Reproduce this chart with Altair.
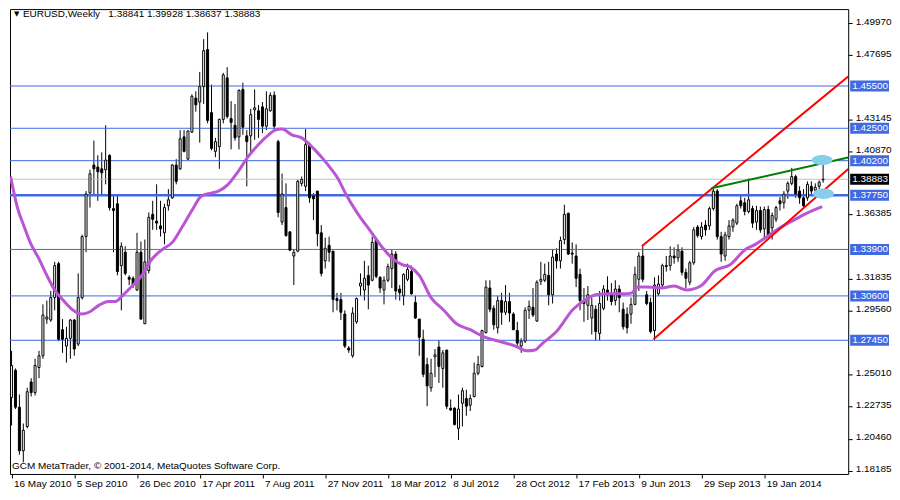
import altair as alt
import pandas as pd

# ---------------- data ----------------
date_labels = ["16 May 2010", "5 Sep 2010", "26 Dec 2010", "17 Apr 2011", "7 Aug 2011",
               "27 Nov 2011", "18 Mar 2012", "8 Jul 2012", "28 Oct 2012", "17 Feb 2013",
               "9 Jun 2013", "29 Sep 2013", "19 Jan 2014"]

opens = [
    1.2339, 1.2532, 1.2270, 1.1961, 1.2133, 1.2449, 1.2374, 1.2552, 1.2635, 1.2896,
    1.2889, 1.3048, 1.3289, 1.2820, 1.2704, 1.2759, 1.2889, 1.2718, 1.3048, 1.3481,
    1.3790, 1.3989, 1.3975, 1.3962, 1.3955, 1.4058, 1.3680, 1.3714, 1.3275, 1.3370,
    1.3192, 1.3185, 1.3102, 1.3370, 1.2862, 1.3240, 1.3639, 1.3591, 1.3557, 1.3508,
    1.3700, 1.3756, 1.3989, 1.3962, 1.4189, 1.4031, 1.4223, 1.4464, 1.4436, 1.4546,
    1.4808, 1.4361, 1.4086, 1.4120, 1.4313, 1.4608, 1.4319, 1.4271, 1.4189, 1.4526,
    1.4196, 1.4196, 1.4381, 1.4374, 1.4402, 1.4265, 1.4374, 1.4484, 1.4155, 1.3584,
    1.3687, 1.3515, 1.3343, 1.3378, 1.3859, 1.3838, 1.4134, 1.3770, 1.3804, 1.3508,
    1.3309, 1.3419, 1.3378, 1.3041, 1.3034, 1.2931, 1.2690, 1.2635, 1.2876, 1.3130,
    1.3102, 1.3206, 1.3171, 1.3460, 1.3192, 1.3102, 1.3171, 1.3254, 1.3357, 1.3109,
    1.3061, 1.3178, 1.3233, 1.3013, 1.2896, 1.2752, 1.2573, 1.2408, 1.2628, 1.2697,
    1.2545, 1.2676, 1.2263, 1.2263, 1.2120, 1.2298, 1.2332, 1.2284, 1.2346, 1.2511,
    1.2559, 1.2800, 1.3116, 1.2972, 1.2834, 1.3027, 1.2944, 1.3020, 1.2931, 1.2814,
    1.2704, 1.2739, 1.2958, 1.2979, 1.2882, 1.3164, 1.3171, 1.3206, 1.3068, 1.3357,
    1.3309, 1.3460, 1.3646, 1.3364, 1.3343, 1.3213, 1.3027, 1.2993, 1.2903, 1.2965,
    1.2793, 1.2972, 1.3102, 1.3068, 1.3027, 1.3109, 1.2965, 1.2931, 1.2931, 1.3000,
    1.3178, 1.3343, 1.3068, 1.3013, 1.2814, 1.3075, 1.3137, 1.3275, 1.3275, 1.3343,
    1.3330, 1.3378, 1.3227, 1.3157, 1.3295, 1.3549, 1.3481, 1.3563, 1.3557, 1.3680,
    1.3804, 1.3481, 1.3343, 1.3481, 1.3549, 1.3577, 1.3735, 1.3721, 1.3659, 1.3680,
    1.3584, 1.3666, 1.3536, 1.3673, 1.3543, 1.3604, 1.3735, 1.3721, 1.3804, 1.3859,
    1.3907, 1.3804, 1.3756, 1.3756, 1.3838, 1.3811, 1.3838, 1.38841]

highs = [
    1.2670, 1.2545, 1.2360, 1.2154, 1.2408, 1.2476, 1.2614, 1.2670, 1.3000, 1.3027,
    1.3095, 1.3302, 1.3302, 1.2896, 1.2841, 1.2896, 1.2896, 1.3220, 1.3494, 1.3804,
    1.3955, 1.4162, 1.4058, 1.4079, 1.4271, 1.4065, 1.3783, 1.3783, 1.3440, 1.3412,
    1.3206, 1.3199, 1.3508, 1.3446, 1.3460, 1.3652, 1.3735, 1.3852, 1.3735, 1.3714,
    1.3818, 1.3996, 1.4031, 1.4237, 1.4237, 1.4237, 1.4491, 1.4512, 1.4650, 1.4883,
    1.4931, 1.4560, 1.4182, 1.4319, 1.4643, 1.4684, 1.4443, 1.4423, 1.4526, 1.4574,
    1.4237, 1.4388, 1.4526, 1.4416, 1.4436, 1.4512, 1.4505, 1.4512, 1.4168, 1.3928,
    1.3859, 1.3515, 1.3391, 1.3887, 1.3907, 1.4244, 1.4148, 1.3790, 1.3804, 1.3563,
    1.3474, 1.3481, 1.3378, 1.3082, 1.3082, 1.2958, 1.2704, 1.2979, 1.3048, 1.3220,
    1.3309, 1.3275, 1.3481, 1.3474, 1.3199, 1.3199, 1.3289, 1.3391, 1.3378, 1.3137,
    1.3220, 1.3289, 1.3275, 1.3061, 1.2896, 1.2820, 1.2621, 1.2614, 1.2683, 1.2745,
    1.2676, 1.2676, 1.2325, 1.2270, 1.2360, 1.2408, 1.2394, 1.2360, 1.2587, 1.2635,
    1.2820, 1.3171, 1.3171, 1.2993, 1.3061, 1.3082, 1.3137, 1.3082, 1.2944, 1.2876,
    1.2759, 1.2979, 1.3027, 1.3116, 1.3171, 1.3302, 1.3289, 1.3302, 1.3391, 1.3398,
    1.3481, 1.3707, 1.3652, 1.3440, 1.3426, 1.3254, 1.3116, 1.3130, 1.3048, 1.2993,
    1.3095, 1.3137, 1.3199, 1.3151, 1.3171, 1.3137, 1.3013, 1.2979, 1.3048, 1.3268,
    1.3370, 1.3412, 1.3095, 1.3048, 1.3192, 1.3206, 1.3289, 1.3343, 1.3412, 1.3405,
    1.3426, 1.3405, 1.3254, 1.3309, 1.3549, 1.3563, 1.3584, 1.3598, 1.3694, 1.3831,
    1.3818, 1.3515, 1.3515, 1.3598, 1.3611, 1.3714, 1.3770, 1.3756, 1.3893, 1.3700,
    1.3700, 1.3694, 1.3694, 1.3700, 1.3652, 1.3700, 1.3762, 1.3804, 1.3873, 1.3969,
    1.3921, 1.3838, 1.3818, 1.3873, 1.3873, 1.3859, 1.3880, 1.39928]

lows = [
    1.2140, 1.2257, 1.1933, 1.1879, 1.2120, 1.2346, 1.2353, 1.2476, 1.2614, 1.2862,
    1.2876, 1.2958, 1.2739, 1.2656, 1.2587, 1.2614, 1.2635, 1.2704, 1.3034, 1.3370,
    1.3687, 1.3770, 1.3735, 1.3770, 1.3852, 1.3666, 1.3370, 1.3206, 1.2958, 1.3206,
    1.3137, 1.3116, 1.3095, 1.2889, 1.2862, 1.3220, 1.3529, 1.3529, 1.3481, 1.3426,
    1.3666, 1.3749, 1.3852, 1.3955, 1.4079, 1.4024, 1.4216, 1.4368, 1.4148, 1.4423,
    1.4285, 1.4093, 1.4045, 1.3962, 1.4285, 1.4319, 1.4100, 1.4162, 1.4100, 1.4203,
    1.3838, 1.4079, 1.4168, 1.4182, 1.4216, 1.4237, 1.4368, 1.4237, 1.3618, 1.3563,
    1.3481, 1.3378, 1.3137, 1.3370, 1.3838, 1.3804, 1.3721, 1.3598, 1.3412, 1.3199,
    1.3254, 1.3302, 1.2944, 1.2958, 1.2889, 1.2690, 1.2656, 1.2621, 1.2862, 1.3061,
    1.3027, 1.2965, 1.3164, 1.3185, 1.3082, 1.3000, 1.3158, 1.3116, 1.3034, 1.3027,
    1.2993, 1.3164, 1.3068, 1.2896, 1.2635, 1.2483, 1.2277, 1.2380, 1.2483, 1.2442,
    1.2408, 1.2257, 1.2243, 1.2140, 1.2037, 1.2133, 1.2209, 1.2243, 1.2339, 1.2497,
    1.2552, 1.2793, 1.2944, 1.2820, 1.2793, 1.2855, 1.2924, 1.2876, 1.2820, 1.2690,
    1.2656, 1.2725, 1.2896, 1.2910, 1.2876, 1.3137, 1.3158, 1.2993, 1.3006, 1.3254,
    1.3254, 1.3426, 1.3350, 1.3289, 1.3123, 1.2958, 1.2876, 1.2889, 1.2786, 1.2745,
    1.2745, 1.2958, 1.3027, 1.2993, 1.2993, 1.2944, 1.2820, 1.2793, 1.2862, 1.2993,
    1.3095, 1.3157, 1.2993, 1.2793, 1.2745, 1.3061, 1.3116, 1.3233, 1.3240, 1.3289,
    1.3302, 1.3206, 1.3116, 1.3137, 1.3281, 1.3474, 1.3460, 1.3488, 1.3529, 1.3666,
    1.3460, 1.3302, 1.3309, 1.3460, 1.3515, 1.3563, 1.3680, 1.3632, 1.3645, 1.3543,
    1.3529, 1.3508, 1.3460, 1.3474, 1.3460, 1.3584, 1.3666, 1.3680, 1.3749, 1.3845,
    1.3756, 1.3714, 1.3687, 1.3735, 1.3770, 1.3783, 1.3818, 1.38637]

closes = [
    1.2566, 1.2270, 1.1961, 1.2106, 1.2380, 1.2374, 1.2566, 1.2635, 1.2924, 1.2910,
    1.3048, 1.3275, 1.2752, 1.2752, 1.2759, 1.2889, 1.2683, 1.3048, 1.3481, 1.3783,
    1.3927, 1.3962, 1.3941, 1.3934, 1.4024, 1.3687, 1.3666, 1.3233, 1.3412, 1.3220,
    1.3178, 1.3137, 1.3370, 1.2896, 1.3302, 1.3618, 1.3604, 1.3577, 1.3536, 1.3687,
    1.3742, 1.3989, 1.3873, 1.4175, 1.4086, 1.4230, 1.4477, 1.4416, 1.4546, 1.4801,
    1.4306, 1.4107, 1.4155, 1.4313, 1.4629, 1.4333, 1.4292, 1.4182, 1.4519, 1.4258,
    1.4155, 1.4347, 1.4395, 1.4313, 1.4265, 1.4388, 1.4484, 1.4265, 1.3652, 1.3783,
    1.3488, 1.3385, 1.3370, 1.3873, 1.3887, 1.4134, 1.3756, 1.3749, 1.3501, 1.3220,
    1.3398, 1.3370, 1.3034, 1.3027, 1.2944, 1.2704, 1.2676, 1.2938, 1.3041, 1.3151,
    1.3185, 1.3137, 1.3440, 1.3199, 1.3116, 1.3171, 1.3268, 1.3357, 1.3095, 1.3082,
    1.3213, 1.3247, 1.3075, 1.2903, 1.2766, 1.2504, 1.2422, 1.2511, 1.2642, 1.2559,
    1.2656, 1.2277, 1.2250, 1.2147, 1.2257, 1.2387, 1.2277, 1.2332, 1.2511, 1.2573,
    1.2814, 1.3123, 1.2965, 1.2855, 1.3027, 1.2944, 1.3020, 1.2938, 1.2820, 1.2725,
    1.2739, 1.2958, 1.2986, 1.2924, 1.3157, 1.3178, 1.3213, 1.3068, 1.3336, 1.3309,
    1.3453, 1.3639, 1.3357, 1.3357, 1.3185, 1.3027, 1.3006, 1.3068, 1.2993, 1.2807,
    1.3006, 1.3109, 1.3068, 1.3020, 1.3109, 1.3048, 1.2841, 1.2834, 1.3000, 1.3213,
    1.3343, 1.3178, 1.3006, 1.2807, 1.3137, 1.3144, 1.3275, 1.3268, 1.3343, 1.3330,
    1.3385, 1.3227, 1.3185, 1.3295, 1.3529, 1.3488, 1.3549, 1.3529, 1.3680, 1.3804,
    1.3481, 1.3357, 1.3494, 1.3557, 1.3598, 1.3700, 1.3700, 1.3659, 1.3742, 1.3577,
    1.3666, 1.3529, 1.3673, 1.3494, 1.3632, 1.3687, 1.3714, 1.3783, 1.3859, 1.3907,
    1.3783, 1.3756, 1.3700, 1.3852, 1.3804, 1.3831, 1.3866, 1.38883]

# moving average (purple), read at sample weeks
ma_week = [-0.25, 1.5, 3.25, 4.75, 7, 9, 11, 13.25, 15.75, 17.75, 19.75, 22.25, 24.75, 26.5,
           28.25, 30.75, 33.25, 35.25, 38.5, 41, 43.5, 46, 48.5, 51, 52.75, 55.25, 57.75,
           60.25, 62.75, 65.25, 67.25, 69, 71.5, 74, 77.25, 79.5, 81.5, 83.25, 85.25, 88.25,
           91.5, 94.75, 97.25, 99.75, 101.5, 104, 107, 110.25, 113.5, 117, 120.25, 125.25,
           128.5, 131.5, 133.5, 135.5, 139, 143.25, 146.5, 149, 152.25, 156.5, 158.25,
           159.75, 162.25, 165.75, 169, 172.25, 175.75, 179.5, 183.25, 187.25, 189.75,
           192.75, 196, 199.5, 202.75, 206.75]
ma_value = [1.3907, 1.3687, 1.3549, 1.3440, 1.3323, 1.3206, 1.3102, 1.3027, 1.2958, 1.2931,
            1.2944, 1.2993, 1.3020, 1.3020, 1.3061, 1.3130, 1.3206, 1.3302, 1.3391, 1.3440,
            1.3549, 1.3666, 1.3770, 1.3790, 1.3804, 1.3852, 1.3941, 1.4045, 1.4127, 1.4196,
            1.4237, 1.4244, 1.4203, 1.4182, 1.4100, 1.4031, 1.3962, 1.3893, 1.3783, 1.3646,
            1.3522, 1.3398, 1.3323, 1.3281, 1.3268, 1.3206, 1.3048, 1.2958, 1.2862, 1.2820,
            1.2773, 1.2731, 1.2704, 1.2670, 1.2676, 1.2725, 1.2807, 1.2965, 1.3034, 1.3068,
            1.3075, 1.3075, 1.3082, 1.3123, 1.3123, 1.3116, 1.3130, 1.3102, 1.3130, 1.3240,
            1.3281, 1.3391, 1.3426, 1.3481, 1.3543, 1.3598, 1.3646, 1.3694]

levels = [1.4550, 1.4250, 1.4020, 1.3775, 1.3390, 1.3060, 1.2745]
thick_level = 1.3775
last_price = 1.38883

# scale labels that stay visible (the others are hidden under the price boxes)
y_ticks = [1.49970, 1.47695, 1.43145, 1.40870, 1.36385,
           1.31835, 1.29560, 1.25010, 1.22735, 1.20460, 1.18185]

channel_week = [160.75, 213.4, 163.75, 213.4]
channel_price = [1.3412, 1.4618, 1.2752, 1.3960]
channel_id = ["upper", "upper", "lower", "lower"]

green_week = [178.5, 213.4]
green_price = [1.3824, 1.4042]

blob_week = [206.75, 207.1]
blob_price = [1.4024, 1.3785]

title_text = "EURUSD,Weekly\u00a0\u00a0 1.38841 1.39928 1.38637 1.38883"
copyright_text = "GCM MetaTrader, \u00a9 2001-2014, MetaQuotes Software Corp."

# ---------------- chart ----------------
W, H = 842, 467
YMIN, YMAX = 1.1796, 1.5096
XDOM = [-0.4, 213.4]
FONT = "Liberation Sans"
FS = 10
BLUE = "#4169E1"

candles = pd.DataFrame({"i": list(range(len(closes))), "o": opens, "h": highs,
                        "l": lows, "c": closes})
xs = alt.Scale(domain=XDOM, nice=False, zero=False, padding=0)
ys = alt.Scale(domain=[YMIN, YMAX], nice=False, zero=False, padding=0)

label_expr = "[" + ",".join("'%s'" % d for d in date_labels) + "][round(datum.value/16)]"
xaxis = alt.Axis(values=[16 * k for k in range(len(date_labels))], labelExpr=label_expr,
                 title=None, domain=False, grid=False, tickSize=4, tickColor="black",
                 labelAlign="left", labelBaseline="top", labelPadding=1, labelOffset=2,
                 labelColor="black", labelFontSize=FS, labelFont=FONT,
                 labelFlush=False, labelOverlap=False)
yaxis = alt.Axis(orient="right", values=y_ticks, format=".5f", title=None, domain=False,
                 grid=False, tickSize=4, tickColor="black", labelPadding=3, labelOffset=-2,
                 labelColor="black", labelFontSize=FS, labelFont=FONT,
                 labelOverlap=False, labelFlush=False)


def X(field):
    return alt.X(field, scale=xs, axis=xaxis)


def Y(field):
    return alt.Y(field, scale=ys, axis=yaxis)


level_df = pd.DataFrame({"level": levels})
level_lines = alt.Chart(level_df).mark_rule(color=BLUE).encode(
    y=Y("level:Q"),
    strokeWidth=alt.condition(alt.datum.level == thick_level, alt.value(2.6), alt.value(1)))

last_line = alt.Chart(pd.DataFrame({"p": [last_price]})).mark_rule(
    color="#C0C0C0", strokeWidth=1).encode(y=Y("p:Q"))

wicks = alt.Chart(candles).mark_rule(color="black", strokeWidth=1).encode(
    x=X("i:Q"), y=Y("l:Q"), y2="h:Q")

bodies = alt.Chart(candles).mark_bar(size=2, stroke="black", strokeWidth=1).encode(
    x=X("i:Q"), y=Y("o:Q"), y2="c:Q",
    fill=alt.condition(alt.datum.c > alt.datum.o, alt.value("white"), alt.value("black")))

ma_df = pd.DataFrame({"w": ma_week, "v": ma_value})
ma_line = alt.Chart(ma_df).mark_line(color="#BA55D3", strokeWidth=3,
                                     interpolate="monotone", clip=True).encode(
    x=X("w:Q"), y=Y("v:Q"))

ch_df = pd.DataFrame({"w": channel_week, "p": channel_price, "id": channel_id})
channel = alt.Chart(ch_df).mark_line(color="#FF0000", strokeWidth=2, clip=True).encode(
    x=X("w:Q"), y=Y("p:Q"), detail="id:N")

gr_df = pd.DataFrame({"w": green_week, "p": green_price})
green = alt.Chart(gr_df).mark_line(color="#008000", strokeWidth=2, clip=True).encode(
    x=X("w:Q"), y=Y("p:Q"))

ELLIPSE = "M -1 0 A 1 0.5 0 1 1 1 0 A 1 0.5 0 1 1 -1 0 Z"
blobs = alt.Chart(pd.DataFrame({"w": blob_week, "p": blob_price})).mark_point(
    shape=ELLIPSE, filled=True, fill="#87CEEB", opacity=1, size=440, strokeWidth=0).encode(
    x=X("w:Q"), y=Y("p:Q"))

half = 5.5 * (YMAX - YMIN) / H
box_df = pd.DataFrame({"level": levels + [last_price],
                       "kind": ["level"] * len(levels) + ["last"]})
box_df["top"] = box_df["level"] + half
box_df["bot"] = box_df["level"] - half
boxes = alt.Chart(box_df).mark_rect().encode(
    x=alt.value(W + 2), x2=alt.value(W + 41),
    y=Y("top:Q"), y2="bot:Q",
    fill=alt.condition(alt.datum.kind == "last", alt.value("black"), alt.value(BLUE)))
box_text = alt.Chart(box_df).mark_text(align="left", baseline="middle", color="white",
                                       fontSize=FS, font=FONT).encode(
    x=alt.value(W + 4), y=Y("level:Q"),
    text=alt.Text("level:Q", format=".5f"))

title_df = pd.DataFrame({"t": [title_text]})
tri = alt.Chart(title_df).mark_text(text="\u25BC", fontSize=7, color="black",
                                    font="DejaVu Sans", align="left", baseline="middle").encode(
    x=alt.value(4), y=alt.value(5))
title = alt.Chart(title_df).mark_text(fontSize=FS, color="black", font=FONT,
                                      align="left", baseline="middle").encode(
    x=alt.value(13), y=alt.value(5), text="t:N")
copy = alt.Chart(pd.DataFrame({"t": [copyright_text]})).mark_text(
    fontSize=FS, color="black", font=FONT, align="left", baseline="middle").encode(
    x=alt.value(2), y=alt.value(H - 8), text="t:N")

chart = alt.layer(
    wicks, level_lines, last_line, bodies, ma_line, channel, green, blobs,
    boxes, box_text, tri, title, copy
).properties(width=W, height=H, padding=0, background="white").configure_view(
    stroke="black", strokeWidth=1)

chart.save("out.html", embed_options={"renderer": "svg", "actions": False})
